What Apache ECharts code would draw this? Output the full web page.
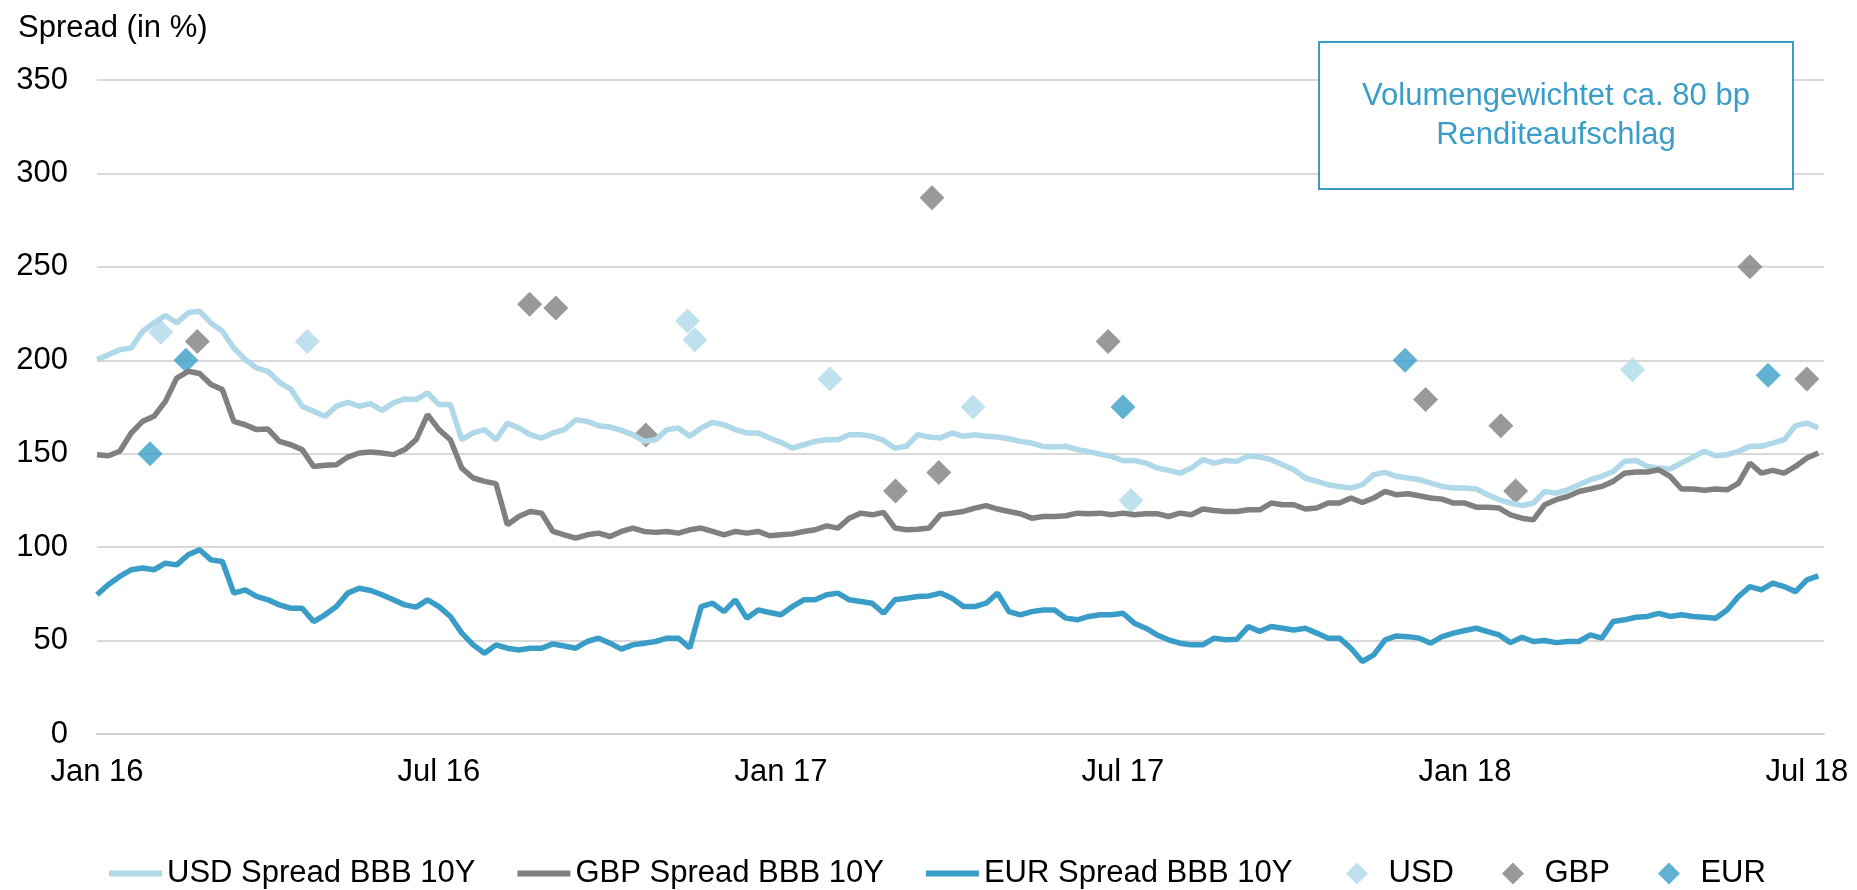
<!DOCTYPE html>
<html>
<head>
    <meta charset="UTF-8">
    <title>Spread BBB 10Y</title>
    <script src="https://cdn.jsdelivr.net/npm/echarts@6/dist/echarts.min.js"></script>
    <style>
        html, body { margin: 0; padding: 0; background: #fff; }
        #chart { width: 1857px; height: 890px; }
    </style>
</head>
<body>
    <div id="chart"></div>

    <script>
        // x axis runs in months since Jan 2016, one tick label every 6 months
        var tickLabels = ['Jan 16', 'Jul 16', 'Jan 17', 'Jul 17', 'Jan 18', 'Jul 18'];
        var step = 0.2;

        var usdSpread = [
            200.4, 203, 205.7, 206.6, 215.5, 220, 224, 220, 225.4, 226.3,
            220, 215.5, 206.6, 200.4, 195.9, 194.1, 188.2, 184.6, 175.4, 172.7,
            170, 175.4, 177.5, 175.4, 176.8, 173.2, 177.2, 179.3, 179, 182.5,
            176.3, 176.3, 157.5, 161.1, 162.9, 157.5, 166.4, 163.8, 160.2, 158.4,
            161.1, 162.9, 168.2, 167.3, 165, 164.3, 162.5, 160.2, 156.6, 157.5,
            162.9, 163.8, 159.3, 163.8, 166.8, 165.5, 162.9, 161.1, 161.1, 158.4,
            156.1, 153, 154.8, 156.6, 157.5, 157.5, 160.2, 160.2, 159.3, 157.1,
            153, 154, 160.2, 158.9, 158.4, 161.1, 159.3, 160.2, 159.3, 158.9,
            158, 156.6, 155.7, 153.9, 153.6, 154, 152.2, 151.1, 149.8, 148.6,
            146.2, 146.4, 145, 142.3, 141.1, 139.6, 142.3, 146.8, 145, 146.4,
            145.9, 148.9, 148.2, 146.8, 144.1, 141.4, 137, 135.2, 133.4, 132.5,
            131.6, 133.4, 138.8, 140, 137.9, 137, 136.1, 134.3, 132.5, 131.6,
            131.6, 131.1, 128, 125.4, 123.6, 122.2, 123.6, 129.8, 128.9, 130.7,
            133.4, 136.1, 137.9, 140.5, 145.9, 146.4, 143.2, 142.3, 141.8, 145,
            148.2, 151.3, 148.9, 149.5, 151.3, 154, 154, 155.7, 157.5, 165,
            166.4, 163.8
        ];
        var gbpSpread = [
            149.5, 148.9, 151.3, 161.1, 167.3, 170, 178, 190.5, 194.1, 192.9,
            187, 184.3, 167.3, 165.5, 162.9, 163.2, 156.6, 154.8, 152.2, 143.2,
            143.8, 144.1, 148.2, 150.4, 150.9, 150.4, 149.5, 152.2, 157.5, 170.9,
            162.9, 157.5, 142.3, 137, 135.2, 134, 112, 116.4, 119.1, 118.2,
            108.4, 106.6, 104.8, 106.6, 107.5, 105.7, 108.4, 110.2, 108.4, 107.9,
            108.4, 107.5, 109.3, 110.2, 108.4, 106.6, 108.4, 107.5, 108.4, 106.1,
            106.6, 107.1, 108.4, 109.3, 111.4, 110.2, 115.5, 118.2, 117.3, 118.6,
            110.2, 109.3, 109.6, 110.2, 117.4, 118.2, 119.1, 120.9, 122.2, 120.4,
            119.1, 117.9, 115.5, 116.4, 116.4, 116.8, 118.2, 117.9, 118.2, 117.3,
            118.2, 117.3, 117.9, 117.9, 116.4, 118.2, 117.3, 120.4, 119.6, 119.1,
            119.1, 120, 120, 123.6, 122.7, 122.7, 120.4, 120.9, 123.6, 123.6,
            126.3, 123.9, 126.3, 129.8, 128, 128.6, 127.5, 126.3, 125.7, 123.6,
            123.6, 121.4, 121.4, 120.9, 117.3, 115.5, 114.6, 122.7, 125.4, 127.1,
            129.8, 131.1, 132.5, 135.2, 139.6, 140.2, 140.2, 141.4, 137.9, 131.1,
            131.1, 130.4, 131.1, 130.7, 134.3, 145, 139.6, 141.1, 139.6, 143.2,
            147.7, 150.4
        ];
        var eurSpread = [
            74.5, 80, 84.3, 87.9, 88.8, 87.9, 91.4, 90.5, 95.9, 98.6,
            93.2, 92.3, 75.4, 77.1, 73.6, 71.8, 69.1, 67.3, 67.3, 60.2,
            63.8, 68.2, 75.4, 78, 76.8, 74.5, 71.8, 69.1, 67.9, 71.8,
            68.2, 62.9, 54, 47.7, 43.2, 47.7, 45.9, 45, 45.9, 45.9,
            48.2, 47.1, 45.9, 49.5, 51.3, 48.6, 45.4, 47.7, 48.6, 49.5,
            51.3, 51.3, 46, 68.2, 70, 65.5, 71.8, 62, 66.4, 65,
            63.8, 68.2, 71.8, 71.8, 74.5, 75.4, 71.8, 70.9, 70, 64.6,
            71.8, 72.7, 73.6, 73.9, 75.4, 72.7, 68.2, 68.2, 70, 75.4,
            65.5, 63.8, 65.5, 66.4, 66.4, 62, 61.1, 62.9, 63.8, 63.8,
            64.6, 59.3, 56.6, 53, 50.4, 48.6, 47.7, 47.7, 51.3, 50.4,
            50.7, 57.5, 54.8, 57.5, 56.6, 55.7, 56.6, 54, 51.3, 51.3,
            45.9, 38.8, 42.3, 50.4, 52.5, 52.1, 51.3, 48.6, 52.1, 54,
            55.4, 56.6, 54.8, 53, 48.9, 51.8, 49.5, 50, 48.9, 49.5,
            49.5, 53, 51.3, 60.2, 61.1, 62.5, 62.9, 64.6, 62.9, 63.8,
            62.9, 62.5, 62, 66.4, 73.6, 78.9, 77.1, 80.7, 78.9, 76.2,
            82.5, 84.6
        ];

        // single issues: month since Jan 2016 and spread
        var usdIssueMonths  = [1.12, 3.69, 10.36, 10.49, 12.86, 15.37, 18.14, 26.94];
        var usdIssueSpreads = [215, 210, 221, 211, 190, 175, 125, 195];
        var gbpIssueMonths  = [1.76, 7.59, 8.05, 9.63, 14.01, 14.65, 14.77, 17.74, 23.31, 24.63, 24.89, 29.0, 30.0];
        var gbpIssueSpreads = [210, 230, 228, 160, 130, 287, 140, 210, 179, 165, 130, 250, 190];
        var eurIssueMonths  = [0.93, 1.56, 18.0, 22.95, 29.32];
        var eurIssueSpreads = [150, 200, 175, 200, 192];

        var colUsd = '#afd8e8';
        var colGbp = '#808080';
        var colEur = '#3a9dc7';
        var font = 'Liberation Sans';

        function linePoints(values) {
            return values.map(function (v, i) { return [+(i * step).toFixed(1), v]; });
        }
        function issuePoints(months, spreads) {
            return months.map(function (m, i) { return [m, spreads[i]]; });
        }

        var lineIcon = 'path://M0,0H53V6H0Z';
        var diamondIcon = 'path://M11,0L22,11L11,22L0,11Z';
        var legendBase = {
            top: 858,
            padding: 0,
            itemWidth: 53,
            itemHeight: 22,
            textStyle: {fontSize: 31, color: '#000'}
        };

        var chart = echarts.init(document.getElementById('chart'), null, {renderer: 'canvas'});

        var option = {
            animation: false,
            backgroundColor: '#fff',
            textStyle: {fontFamily: font},
            title: {
                text: 'Spread (in %)',
                left: 18,
                top: 13,
                padding: 0,
                textStyle: {fontFamily: font, fontSize: 31, fontWeight: 'normal', color: '#000'}
            },
            grid: {left: 97, right: 33, top: 80, bottom: 156},
            xAxis: {
                type: 'value',
                min: 0,
                max: 30.3,
                interval: 6,
                axisLine: {show: true, lineStyle: {color: '#cfcfcf', width: 2}},
                axisTick: {show: false},
                splitLine: {show: false},
                axisLabel: {
                    fontSize: 31,
                    color: '#000',
                    margin: 23,
                    formatter: function (v) {
                        return v % 6 === 0 ? tickLabels[v / 6] : '';
                    }
                }
            },
            yAxis: {
                type: 'value',
                min: 0,
                max: 350,
                interval: 50,
                axisLine: {show: false},
                axisTick: {show: false},
                splitLine: {lineStyle: {color: '#d9d9d9', width: 2}},
                axisLabel: {fontSize: 31, color: '#000', margin: 29}
            },
            legend: [
                Object.assign({}, legendBase, {
                    left: 109,
                    itemGap: 42,
                    data: [
                        {name: 'USD Spread BBB 10Y', icon: lineIcon},
                        {name: 'GBP Spread BBB 10Y', icon: lineIcon},
                        {name: 'EUR Spread BBB 10Y', icon: lineIcon}
                    ]
                }),
                Object.assign({}, legendBase, {
                    left: 1346,
                    itemGap: 48,
                    data: [
                        {name: 'USD', icon: diamondIcon},
                        {name: 'GBP', icon: diamondIcon},
                        {name: 'EUR', icon: diamondIcon}
                    ]
                })
            ],
            graphic: [
                {
                    type: 'rect',
                    x: 1319,
                    y: 42,
                    shape: {width: 474, height: 147},
                    style: {fill: '#fff', stroke: colEur, lineWidth: 2},
                    z: 100
                },
                {
                    type: 'text',
                    x: 1556,
                    y: 116,
                    style: {
                        text: 'Volumengewichtet ca. 80 bp\nRenditeaufschlag',
                        fill: colEur,
                        font: '31px "Liberation Sans"',
                        align: 'center',
                        verticalAlign: 'middle',
                        lineHeight: 39
                    },
                    z: 101
                }
            ],
            series: [
                {
                    name: 'USD Spread BBB 10Y', type: 'line', color: colUsd,
                    showSymbol: false, lineStyle: {width: 5.5, color: colUsd},
                    data: linePoints(usdSpread)
                },
                {
                    name: 'GBP Spread BBB 10Y', type: 'line', color: colGbp,
                    showSymbol: false, lineStyle: {width: 5.5, color: colGbp},
                    data: linePoints(gbpSpread)
                },
                {
                    name: 'EUR Spread BBB 10Y', type: 'line', color: colEur,
                    showSymbol: false, lineStyle: {width: 5.5, color: colEur},
                    data: linePoints(eurSpread)
                },
                {
                    name: 'USD', type: 'scatter', color: colUsd,
                    symbol: 'diamond', symbolSize: 25,
                    data: issuePoints(usdIssueMonths, usdIssueSpreads)
                },
                {
                    name: 'GBP', type: 'scatter', color: colGbp,
                    symbol: 'diamond', symbolSize: 25,
                    data: issuePoints(gbpIssueMonths, gbpIssueSpreads)
                },
                {
                    name: 'EUR', type: 'scatter', color: colEur,
                    symbol: 'diamond', symbolSize: 25,
                    data: issuePoints(eurIssueMonths, eurIssueSpreads)
                }
            ]
        };

        chart.setOption(option);
    </script>
</body>
</html>
